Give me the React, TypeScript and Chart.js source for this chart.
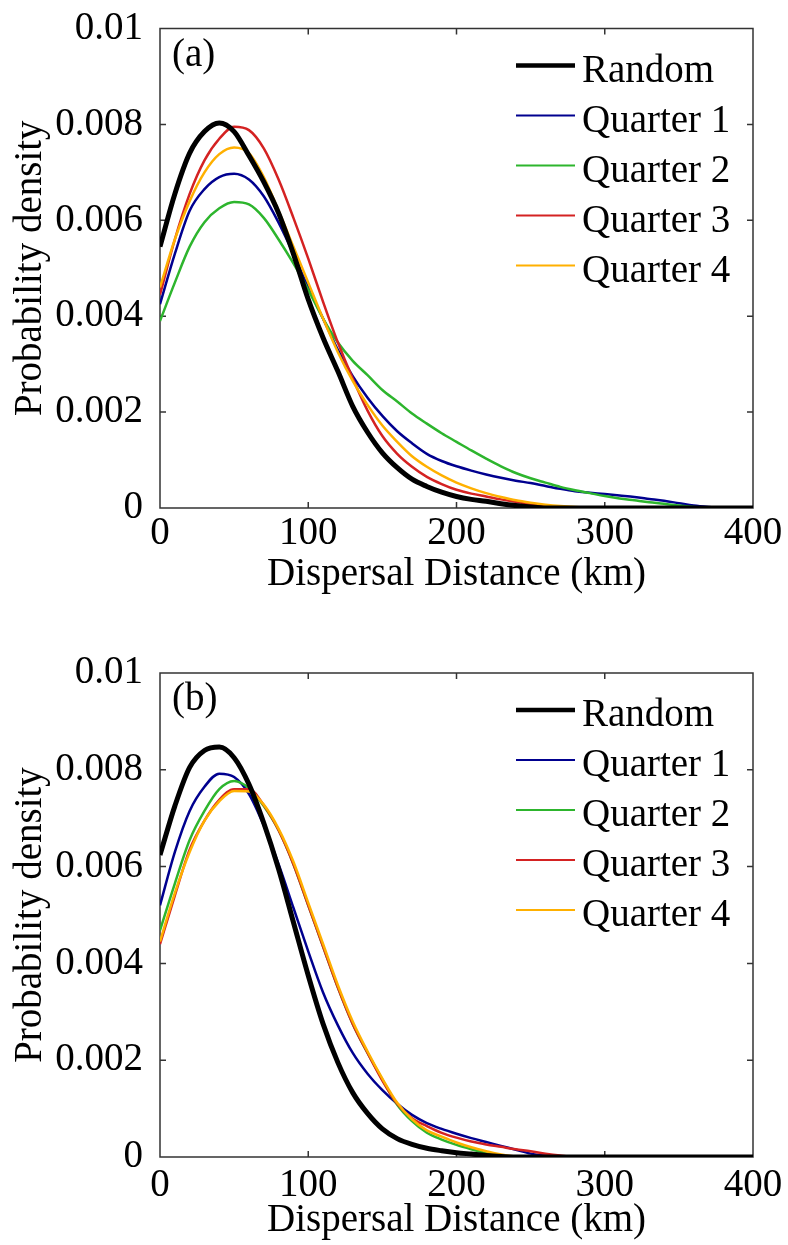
import { useEffect, useRef } from "react";
import { Chart, registerables } from "chart.js";

Chart.register(...registerables);

// ---------- data ----------
const distanceKm = [
  0, 10, 20, 30, 40, 50, 60, 70, 80, 90, 100, 110, 120, 130, 140, 150, 160, 170, 180, 190, 200,
  210, 220, 230, 240, 250, 260, 270, 280, 290, 300, 310, 320, 330, 340, 350, 360, 370, 380, 390, 400,
];

const seriesNames = ["Random", "Quarter 1", "Quarter 2", "Quarter 3", "Quarter 4"];
const seriesColors = ["#000000", "#00008f", "#2db52d", "#d42222", "#ffb000"];
const seriesWidths = [5, 2.5, 2.5, 2.5, 2.5];
const legendWidths = [4.5, 2.2, 2.2, 2.2, 2.2];
const seriesOrder = [0, 4, 3, 2, 1];

const xTickValues = [0, 100, 200, 300, 400];
const xTickLabels = ["0", "100", "200", "300", "400"];
const yTickValues = [0, 0.002, 0.004, 0.006, 0.008, 0.01];
const yTickLabels = ["0", "0.002", "0.004", "0.006", "0.008", "0.01"];

const panelLabels = ["(a)", "(b)"];
const xTitle = "Dispersal Distance (km)";
const yTitle = "Probability density";

// Panel (a)
const aRandom = [
  5.45e-3, 6.55e-3, 7.4e-3, 7.85e-3, 8.03e-3, 7.85e-3, 7.35e-3, 6.8e-3, 6.15e-3, 5.3e-3, 4.35e-3,
  3.55e-3, 2.85e-3, 2.12e-3, 1.58e-3, 1.15e-3, 0.84e-3, 0.6e-3, 0.45e-3, 0.33e-3, 0.24e-3, 0.18e-3,
  0.14e-3, 0.09e-3, 0.05e-3, 0.02e-3, 0, 0, 0, 0, 0, 0, 0, 0, 0, 0, 0, 0, 0, 0, 0,
];
const aQuarter1 = [
  4.25e-3, 5.3e-3, 6.2e-3, 6.65e-3, 6.9e-3, 6.97e-3, 6.85e-3, 6.5e-3, 5.95e-3, 5.3e-3, 4.6e-3,
  3.95e-3, 3.3e-3, 2.75e-3, 2.3e-3, 1.92e-3, 1.6e-3, 1.35e-3, 1.13e-3, 0.98e-3, 0.87e-3, 0.78e-3,
  0.7e-3, 0.63e-3, 0.57e-3, 0.52e-3, 0.46e-3, 0.4e-3, 0.35e-3, 0.32e-3, 0.29e-3, 0.26e-3, 0.23e-3,
  0.19e-3, 0.15e-3, 0.1e-3, 0.05e-3, 0.02e-3, 0, 0, 0,
];
const aQuarter2 = [
  3.9e-3, 4.7e-3, 5.45e-3, 5.96e-3, 6.25e-3, 6.38e-3, 6.33e-3, 6.05e-3, 5.6e-3, 5.1e-3, 4.55e-3,
  3.95e-3, 3.45e-3, 3.07e-3, 2.77e-3, 2.46e-3, 2.22e-3, 1.97e-3, 1.76e-3, 1.56e-3, 1.38e-3, 1.2e-3,
  1.03e-3, 0.87e-3, 0.73e-3, 0.62e-3, 0.53e-3, 0.44e-3, 0.37e-3, 0.31e-3, 0.25e-3, 0.2e-3, 0.16e-3,
  0.12e-3, 0.09e-3, 0.05e-3, 0.02e-3, 0, 0, 0, 0,
];
const aQuarter3 = [
  4.45e-3, 5.6e-3, 6.55e-3, 7.25e-3, 7.7e-3, 7.95e-3, 7.88e-3, 7.5e-3, 6.85e-3, 6.05e-3, 5.2e-3,
  4.3e-3, 3.45e-3, 2.7e-3, 2.03e-3, 1.5e-3, 1.13e-3, 0.86e-3, 0.65e-3, 0.5e-3, 0.38e-3, 0.3e-3,
  0.24e-3, 0.18e-3, 0.13e-3, 0.08e-3, 0.03e-3, 0, 0, 0, 0, 0, 0, 0, 0, 0, 0, 0, 0, 0, 0,
];
const aQuarter4 = [
  4.6e-3, 5.6e-3, 6.4e-3, 7.0e-3, 7.38e-3, 7.52e-3, 7.4e-3, 6.9e-3, 6.2e-3, 5.45e-3, 4.7e-3,
  3.95e-3, 3.25e-3, 2.65e-3, 2.15e-3, 1.72e-3, 1.38e-3, 1.08e-3, 0.86e-3, 0.68e-3, 0.53e-3, 0.41e-3,
  0.31e-3, 0.23e-3, 0.16e-3, 0.11e-3, 0.07e-3, 0.04e-3, 0.02e-3, 0.01e-3, 0, 0, 0, 0, 0, 0, 0, 0,
  0, 0, 0,
];

// Panel (b)
const bRandom = [
  6.24e-3, 7.25e-3, 8.05e-3, 8.4e-3, 8.47e-3, 8.25e-3, 7.7e-3, 6.9e-3, 5.95e-3, 4.85e-3, 3.75e-3,
  2.75e-3, 1.95e-3, 1.33e-3, 0.9e-3, 0.58e-3, 0.38e-3, 0.26e-3, 0.18e-3, 0.13e-3, 0.09e-3, 0.06e-3,
  0.03e-3, 0.01e-3, 0, 0, 0, 0, 0, 0, 0, 0, 0, 0, 0, 0, 0, 0, 0, 0, 0,
];
const bQuarter1 = [
  5.2e-3, 6.3e-3, 7.15e-3, 7.65e-3, 7.92e-3, 7.85e-3, 7.5e-3, 6.85e-3, 6.05e-3, 5.15e-3, 4.25e-3,
  3.4e-3, 2.72e-3, 2.15e-3, 1.72e-3, 1.38e-3, 1.1e-3, 0.87e-3, 0.7e-3, 0.58e-3, 0.48e-3, 0.39e-3,
  0.31e-3, 0.23e-3, 0.15e-3, 0.07e-3, 0.03e-3, 0.01e-3, 0, 0, 0, 0, 0, 0, 0, 0, 0, 0, 0, 0, 0,
];
const bQuarter2 = [
  4.68e-3, 5.65e-3, 6.55e-3, 7.15e-3, 7.6e-3, 7.77e-3, 7.62e-3, 7.25e-3, 6.75e-3, 6.05e-3, 5.2e-3,
  4.35e-3, 3.5e-3, 2.75e-3, 2.15e-3, 1.6e-3, 1.08e-3, 0.74e-3, 0.5e-3, 0.36e-3, 0.25e-3, 0.16e-3,
  0.08e-3, 0.02e-3, 0, 0, 0, 0, 0, 0, 0, 0, 0, 0, 0, 0, 0, 0, 0, 0, 0,
];
const bQuarter3 = [
  4.4e-3, 5.4e-3, 6.35e-3, 6.95e-3, 7.38e-3, 7.6e-3, 7.6e-3, 7.27e-3, 6.75e-3, 6.05e-3, 5.2e-3,
  4.35e-3, 3.5e-3, 2.75e-3, 2.15e-3, 1.58e-3, 1.1e-3, 0.8e-3, 0.64e-3, 0.5e-3, 0.4e-3, 0.32e-3,
  0.26e-3, 0.21e-3, 0.16e-3, 0.12e-3, 0.07e-3, 0.03e-3, 0, 0, 0, 0, 0, 0, 0, 0, 0, 0, 0, 0, 0,
];
const bQuarter4 = [
  4.45e-3, 5.45e-3, 6.3e-3, 6.95e-3, 7.35e-3, 7.56e-3, 7.55e-3, 7.28e-3, 6.78e-3, 6.1e-3, 5.25e-3,
  4.4e-3, 3.55e-3, 2.8e-3, 2.18e-3, 1.62e-3, 1.12e-3, 0.78e-3, 0.55e-3, 0.42e-3, 0.3e-3, 0.2e-3,
  0.12e-3, 0.05e-3, 0.01e-3, 0, 0, 0, 0, 0, 0, 0, 0, 0, 0, 0, 0, 0, 0, 0, 0,
];

const panelASeries = [aRandom, aQuarter1, aQuarter2, aQuarter3, aQuarter4];
const panelBSeries = [bRandom, bQuarter1, bQuarter2, bQuarter3, bQuarter4];

// ---------- styling ----------
const FONT_FAMILY = '"Liberation Serif", "Times New Roman", serif';
const FONT_SIZE = 39;
const font = { family: FONT_FAMILY, size: FONT_SIZE, lineHeight: 1.2 };
const tickFont = { family: FONT_FAMILY, size: FONT_SIZE, lineHeight: 1.0 };

const decorPlugin = {
  id: "decor",
  beforeDatasetsDraw(chart: any) {
    const { ctx, chartArea, scales } = chart;
    const { left, right, top, bottom } = chartArea;
    const x = scales.x;
    const y = scales.y;
    ctx.save();
    ctx.strokeStyle = "#333333";
    ctx.lineWidth = 1.5;
    ctx.beginPath();
    ctx.rect(left, top, right - left, bottom - top);
    const tick = 6;
    x.ticks.forEach((t: any) => {
      if (t.value <= x.min || t.value >= x.max) return;
      const px = x.getPixelForValue(t.value);
      ctx.moveTo(px, bottom);
      ctx.lineTo(px, bottom - tick);
      ctx.moveTo(px, top);
      ctx.lineTo(px, top + tick);
    });
    y.ticks.forEach((t: any) => {
      if (t.value <= y.min || t.value >= y.max) return;
      const py = y.getPixelForValue(t.value);
      ctx.moveTo(left, py);
      ctx.lineTo(left + tick, py);
      ctx.moveTo(right, py);
      ctx.lineTo(right - tick, py);
    });
    ctx.stroke();
    ctx.restore();
  },
  afterDatasetsDraw(chart: any, _args: any, opts: any) {
    const { ctx, chartArea } = chart;
    const { left, top } = chartArea;
    ctx.save();
    ctx.font = `${FONT_SIZE}px ${FONT_FAMILY}`;
    ctx.fillStyle = "#000000";
    ctx.textAlign = "left";
    ctx.textBaseline = "alphabetic";
    ctx.fillText(opts.label, left + 12, top + 37);
    chart.data.datasets.forEach((ds: any, i: number) => {
      const ly = top + 37 + i * 50;
      ctx.beginPath();
      ctx.strokeStyle = ds.borderColor;
      ctx.lineWidth = legendWidths[i];
      ctx.moveTo(516, ly);
      ctx.lineTo(575, ly);
      ctx.stroke();
      ctx.fillText(ds.label, 582, ly + 16);
    });
    ctx.restore();
  },
};

type PanelProps = {
  label: string;
  series: number[][];
  height: number;
  top: number;
  topPad: number;
  xAxisHeight: number;
  xTickPad: number;
  xTitlePad: number;
};

function Panel({ label, series, height, top, topPad, xAxisHeight, xTickPad, xTitlePad }: PanelProps) {
  const ref = useRef<HTMLCanvasElement | null>(null);
  useEffect(() => {
    if (!ref.current) return;
    const datasets = series.map((vals, i) => ({
      label: seriesNames[i],
      data: vals.map((v, j) => ({ x: distanceKm[j], y: v })),
      borderColor: seriesColors[i],
      backgroundColor: seriesColors[i],
      borderWidth: seriesWidths[i],
      pointRadius: 0,
      fill: false,
      cubicInterpolationMode: "monotone" as const,
      order: seriesOrder[i],
    }));
    const chart = new Chart(ref.current, {
      type: "line",
      data: { datasets },
      plugins: [decorPlugin],
      options: {
        responsive: false,
        animation: false,
        devicePixelRatio: 1,
        layout: { padding: { left: 0, right: 35, top: topPad, bottom: 0 } },
        plugins: {
          legend: { display: false },
          tooltip: { enabled: false },
          decor: { label },
        } as any,
        scales: {
          x: {
            type: "linear",
            min: 0,
            max: 400,
            afterBuildTicks: (s: any) => {
              s.ticks = xTickValues.map((v) => ({ value: v }));
            },
            ticks: {
              callback: (_v: any, i: number) => xTickLabels[i],
              font: tickFont,
              color: "#000000",
              padding: xTickPad,
              maxRotation: 0,
              autoSkip: false,
            },
            grid: { display: false },
            border: { display: false },
            title: {
              display: true,
              text: xTitle,
              font,
              color: "#000000",
              padding: { top: 0, bottom: xTitlePad },
            },
            afterFit: (s: any) => {
              s.height = xAxisHeight;
            },
          },
          y: {
            type: "linear",
            min: 0,
            max: 0.01,
            afterBuildTicks: (s: any) => {
              s.ticks = yTickValues.map((v) => ({ value: v }));
            },
            ticks: {
              callback: (_v: any, i: number) => yTickLabels[i],
              font: tickFont,
              color: "#000000",
              padding: 9,
              autoSkip: false,
            },
            grid: { display: false },
            border: { display: false },
            title: {
              display: true,
              text: yTitle,
              font,
              color: "#000000",
              padding: { top: 7, bottom: 0 },
            },
            afterFit: (s: any) => {
              s.width = 160;
            },
          },
        },
      } as any,
    });
    return () => chart.destroy();
  }, []);
  return (
    <canvas
      ref={ref}
      width={788}
      height={height}
      style={{ position: "absolute", left: 0, top, width: 788, height }}
    />
  );
}

export default function App() {
  return (
    <div
      style={{
        position: "absolute",
        left: 0,
        top: 0,
        width: 788,
        height: 1245,
        background: "#ffffff",
        overflow: "hidden",
      }}
    >
      <Panel
        label={panelLabels[0]}
        series={panelASeries}
        height={640}
        top={0}
        topPad={25}
        xAxisHeight={132}
        xTickPad={-2}
        xTitlePad={42}
      />
      <Panel
        label={panelLabels[1]}
        series={panelBSeries}
        height={605}
        top={640}
        topPad={33}
        xAxisHeight={88}
        xTickPad={1}
        xTitlePad={1}
      />
    </div>
  );
}
